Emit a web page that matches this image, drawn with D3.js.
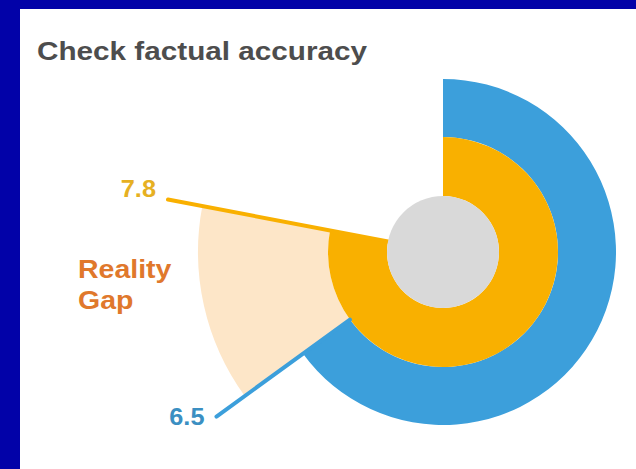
<!DOCTYPE html>
<html>
<head>
<meta charset="utf-8">
<script src="https://cdn.jsdelivr.net/npm/d3@7"></script>
<style>
  html, body { margin: 0; padding: 0; background: #0202a8; }
  svg { display: block; }
</style>
</head>
<body>
<div id="chart"></div>
<script>
// scores on a 0-10 scale
var seriesNames = ["Perceived", "Actual"];
var seriesValues = [7.8, 6.5];
var valueLabels = ["7.8", "6.5"];
var maxScore = 10;
var titleText = "Check factual accuracy";
var gapLabel = ["Reality", "Gap"];

var width = 636, height = 469;
var cx = 443, cy = 252;

var svg = d3.select("#chart")
    .append("svg")
    .attr("width", width)
    .attr("height", height);

// the original lettering runs a bit wider than Liberation Sans
function widen(sel, k) {
    sel.each(function () {
        var len = this.getComputedTextLength();
        d3.select(this)
            .attr("textLength", len * k)
            .attr("lengthAdjust", "spacingAndGlyphs");
    });
}

// white panel inside the blue frame
svg.append("rect")
    .attr("x", 20)
    .attr("y", 9)
    .attr("width", width - 20)
    .attr("height", height - 9)
    .attr("fill", "#ffffff");

svg.append("text")
    .attr("x", 37)
    .attr("y", 60)
    .attr("textLength", 330)
    .attr("lengthAdjust", "spacingAndGlyphs")
    .style("font-family", "'Liberation Sans', Arial, sans-serif")
    .style("font-weight", "bold")
    .style("font-size", "26px")
    .style("fill", "#4d4d4d")
    .text(titleText);

var angle = d3.scaleLinear()
    .domain([0, maxScore])
    .range([0, 2 * Math.PI]);

var radius = d3.scaleOrdinal()
    .domain(seriesNames)
    .range([[56, 115], [115, 173]]);

var color = d3.scaleOrdinal()
    .domain(seriesNames)
    .range(["#f9b000", "#3c9fdb"]);

var labelColor = d3.scaleOrdinal()
    .domain(seriesNames)
    .range(["#e6b022", "#3b8fc2"]);

var g = svg.append("g")
    .attr("transform", "translate(" + cx + "," + cy + ")");

var arc = d3.arc();

// the gap wedge between the two scores
g.append("path")
    .attr("d", arc({
        innerRadius: 115,
        outerRadius: 245,
        startAngle: angle(d3.min(seriesValues)),
        endAngle: angle(d3.max(seriesValues))
    }))
    .attr("fill", "#fde6c8");

var data = seriesNames.map(function (d, i) {
    return { name: d, value: seriesValues[i], label: valueLabels[i] };
});

// draw outer ring first
g.selectAll("path.ring")
    .data(data.slice().reverse())
    .enter()
    .append("path")
    .attr("class", "ring")
    .attr("d", function (d) {
        return arc({
            innerRadius: radius(d.name)[0],
            outerRadius: radius(d.name)[1],
            startAngle: 0,
            endAngle: angle(d.value)
        });
    })
    .attr("fill", function (d) { return color(d.name); });

function polar(r, v) {
    var a = angle(v);
    return [r * Math.sin(a), -r * Math.cos(a)];
}

// leader lines, each starting at the inner edge of its ring
g.selectAll("line.leader")
    .data(data.slice().reverse())
    .enter()
    .append("line")
    .attr("class", "leader")
    .attr("x1", function (d) { return polar(radius(d.name)[0], d.value)[0]; })
    .attr("y1", function (d) { return polar(radius(d.name)[0], d.value)[1]; })
    .attr("x2", function (d) { return polar(280, d.value)[0]; })
    .attr("y2", function (d) { return polar(280, d.value)[1]; })
    .attr("stroke", function (d) { return color(d.name); })
    .attr("stroke-width", 4)
    .attr("stroke-linecap", "round");

g.append("circle")
    .attr("r", 56)
    .attr("fill", "#d9d9d9");

// value labels at the end of the leader lines
g.selectAll("text.value")
    .data(data)
    .enter()
    .append("text")
    .attr("class", "value")
    .attr("x", function (d) { return polar(280, d.value)[0] - 12; })
    .attr("y", function (d, i) { return polar(280, d.value)[1] + (i === 0 ? -3 : 8); })
    .attr("text-anchor", "end")
    .style("font-family", "'Liberation Sans', Arial, sans-serif")
    .style("font-weight", "bold")
    .style("font-size", "23px")
    .style("fill", function (d) { return labelColor(d.name); })
    .text(function (d) { return d.label; })
    .call(widen, 1.1);

svg.append("g")
    .selectAll("text")
    .data(gapLabel)
    .enter()
    .append("text")
    .attr("x", 78)
    .attr("y", function (d, i) { return 278 + i * 31; })
    .style("font-family", "'Liberation Sans', Arial, sans-serif")
    .style("font-weight", "bold")
    .style("font-size", "25px")
    .style("fill", "#e0782c")
    .text(function (d) { return d; })
    .call(widen, 1.14);
</script>
</body>
</html>
